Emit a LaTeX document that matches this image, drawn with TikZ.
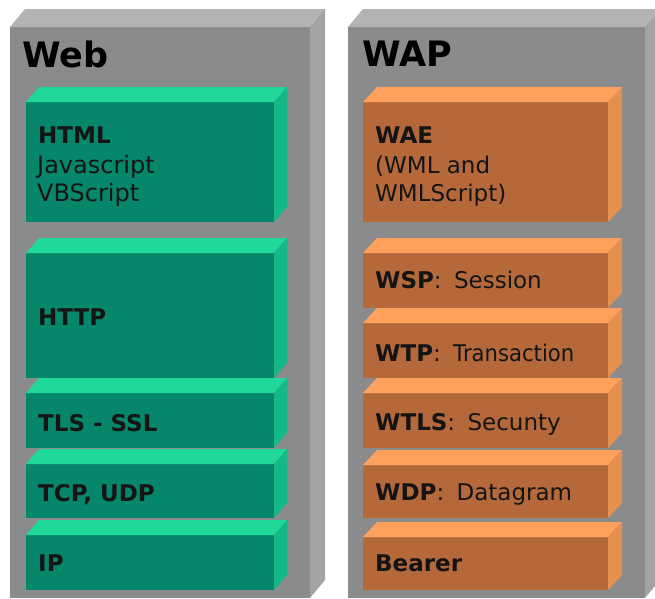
\documentclass[tikz,border=0pt]{standalone}
\usepackage{fontspec}
\setmainfont{DejaVu Sans}
\definecolor{panelfront}{HTML}{8A8B8C}
\definecolor{paneltop}{HTML}{B3B3B3}
\definecolor{panelside}{HTML}{A3A3A3}
\definecolor{greenfront}{HTML}{06866A}
\definecolor{greentop}{HTML}{1FD89A}
\definecolor{greenside}{HTML}{15B888}
\definecolor{orangefront}{HTML}{B5693B}
\definecolor{orangetop}{HTML}{FFA15C}
\definecolor{orangeside}{HTML}{E69050}
\definecolor{inktext}{HTML}{141414}
% x1, y1, x2, y2 of the front face, colour prefix, depth dx, depth dy
\newcommand\drawslab[7]{%
  \fill[#5front] (#1,#2) rectangle (#3,#4);
  \fill[#5top] (#1,#2) -- (#1+#6,#2-#7) -- (#3+#6,#2-#7) -- (#3,#2) -- cycle;
  \fill[#5side] (#3,#2) -- (#3+#6,#2-#7) -- (#3+#6,#4-#7) -- (#3,#4) -- cycle;
}
\newcommand\colsep{:\hspace{5pt} }
\tikzset{
  lbl/.style={anchor=base west, inner sep=0pt, text=inktext, font=\fontsize{23}{28}\selectfont},
  ttl/.style={anchor=base west, inner sep=0pt, text=black, font=\fontsize{35}{40}\selectfont\bfseries}
}
\begin{document}
\begin{tikzpicture}[x=1pt,y=-1pt]
\clip (0,0) rectangle (655,598);
\fill[white] (0,0) rectangle (655,598);
% panels
\drawslab{10}{27}{310}{598}{panel}{15}{18}
\drawslab{348}{27}{645}{598}{panel}{15}{18}
% web stack
\drawslab{26}{102}{274}{222}{green}{13}{15}
\drawslab{26}{253}{274}{378}{green}{13}{15}
\drawslab{26}{393}{274}{448}{green}{13}{15}
\drawslab{26}{464}{274}{518}{green}{13}{15}
\drawslab{26}{535}{274}{590}{green}{13}{15}
% wap stack
\drawslab{363}{102}{608}{222}{orange}{14}{15}
\drawslab{363}{253}{608}{308}{orange}{14}{15}
\drawslab{363}{323}{608}{378}{orange}{14}{15}
\drawslab{363}{393}{608}{448}{orange}{14}{15}
\drawslab{363}{465}{608}{518}{orange}{14}{15}
\drawslab{363}{537}{608}{590}{orange}{14}{15}
% titles
\node[ttl] (webtitle) at (22,67) {Web};
\node[ttl] (waptitle) at (362,66) {WAP};
% web labels
\node[lbl] (html) at (38,143) {\textbf{HTML}};
\node[lbl] (js) at (37,173) {\fontsize{24}{28}\selectfont Javascript};
\node[lbl] (vbs) at (37,201) {\fontsize{24}{28}\selectfont VBScript};
\node[lbl] (http) at (38,325) {\textbf{HTTP}};
\node[lbl] (tls) at (38,431) {\textbf{TLS - SSL}};
\node[lbl] (tcp) at (38,501) {\textbf{TCP, UDP}};
\node[lbl] (ip) at (38,571) {\textbf{IP}};
% wap labels
\node[lbl] (wae) at (375,143) {\textbf{WAE}};
\node[lbl] (wml) at (375,173) {(WML and};
\node[lbl] (wmls) at (375,201) {WMLScript)};
\node[lbl] (wsp) at (375,288) {\textbf{WSP}\colsep Session};
\node[lbl] (wtp) at (375,361) {\textbf{WTP}\colsep\scalebox{0.92}[1]{Transaction}};
\node[lbl] (wtls) at (375,430) {\textbf{WTLS}\colsep Secunty};
\node[lbl] (wdp) at (375,500) {\textbf{WDP}\colsep Datagram};
\node[lbl] (bearer) at (375,571) {\textbf{Bearer}};
\end{tikzpicture}
\end{document}
